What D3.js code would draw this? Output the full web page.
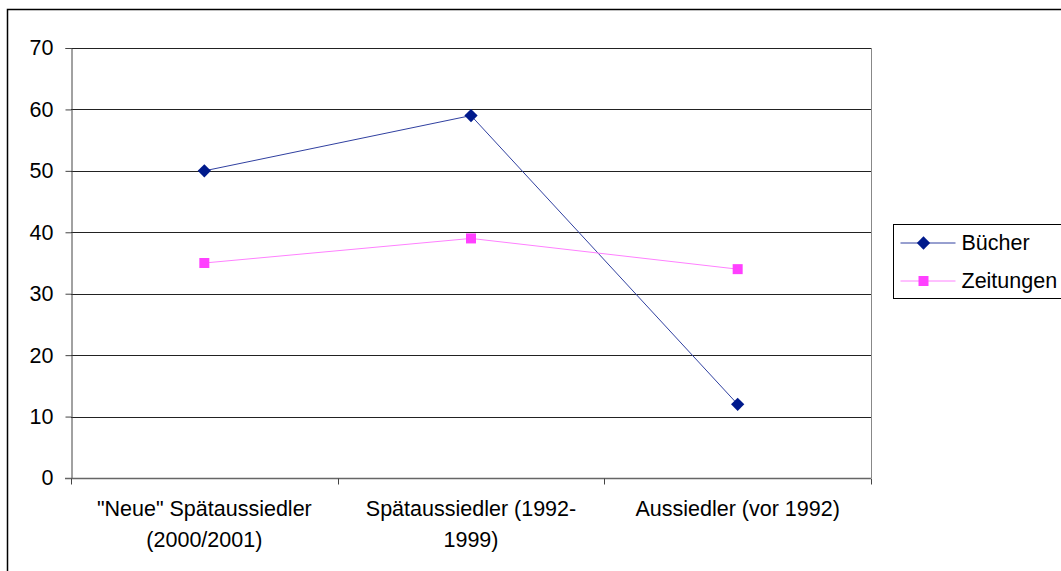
<!DOCTYPE html>
<html>
<head>
<meta charset="utf-8">
<script src="https://cdn.jsdelivr.net/npm/d3@7"></script>
<style>
  body { margin: 0; background: #fff; }
  text { font-family: "Liberation Sans", Arial, sans-serif; font-size: 21.5px; fill: #000; }
</style>
</head>
<body>
<div id="chart"></div>
<script>
// data
var categories = [["\"Neue\" Spätaussiedler", "(2000/2001)"], ["Spätaussiedler (1992-", "1999)"], ["Aussiedler (vor 1992)"]];
var buecher = [50, 59, 12];
var zeitungen = [35, 39, 34];
var yTicks = [0, 10, 20, 30, 40, 50, 60, 70];
var seriesNames = ["Bücher", "Zeitungen"];

var W = 1061, H = 571;
var margin = { top: 48, right: 190, bottom: 93, left: 71 };

var svg = d3.select("#chart").append("svg")
    .attr("width", W)
    .attr("height", H);

// outer chart border
svg.append("rect")
    .attr("x", 7.5).attr("y", 9.5)
    .attr("width", W).attr("height", H)
    .attr("fill", "none")
    .attr("stroke", "#000")
    .attr("stroke-width", 1.5);

var g = svg.append("g")
    .attr("transform", "translate(" + margin.left + "," + margin.top + ")");

var width = W - margin.left - margin.right;   // 800
var height = H - margin.top - margin.bottom;  // 430

var x = d3.scaleBand()
    .domain(d3.range(categories.length))
    .range([0, width]);

var y = d3.scaleLinear()
    .domain([0, 70])
    .range([height, 0]);

// gridlines
g.selectAll(".grid")
    .data(yTicks.filter(function(d){ return d > 0; }))
    .enter().append("line")
    .attr("class", "grid")
    .attr("x1", 0).attr("x2", width)
    .attr("y1", function(d){ return Math.round(y(d)) + 0.5; })
    .attr("y2", function(d){ return Math.round(y(d)) + 0.5; })
    .attr("stroke", "#222")
    .attr("stroke-width", 1);

// plot area right border
g.append("line")
    .attr("x1", width + 0.5).attr("x2", width + 0.5)
    .attr("y1", 0).attr("y2", height)
    .attr("stroke", "#888");

// y axis
var yAxis = g.append("g")
    .attr("transform", "translate(0.5,0)")
    .call(d3.axisLeft(y).tickValues(yTicks).tickSize(6).tickPadding(12));
yAxis.select(".domain").attr("stroke", "#444");
yAxis.selectAll(".tick line").attr("stroke", "#444");
yAxis.selectAll("text").style("font-size", "21.5px").attr("fill", "#000");

// x axis
var xAxis = g.append("g")
    .attr("transform", "translate(0," + (height + 0.5) + ")");
xAxis.append("line")
    .attr("x1", -6).attr("x2", width)
    .attr("stroke", "#666").attr("stroke-width", 1.5);
xAxis.selectAll(".xtick")
    .data(d3.range(categories.length + 1))
    .enter().append("line")
    .attr("class", "xtick")
    .attr("x1", function(d){ return Math.round(d * x.bandwidth()) + 0.5; })
    .attr("x2", function(d){ return Math.round(d * x.bandwidth()) + 0.5; })
    .attr("y1", 0).attr("y2", 6)
    .attr("stroke", "#444");

var labels = xAxis.selectAll(".xlabel")
    .data(categories)
    .enter().append("text")
    .attr("class", "xlabel")
    .attr("text-anchor", "middle")
    .attr("x", function(d, i){ return x(i) + x.bandwidth() / 2; });
labels.selectAll("tspan")
    .data(function(d){ return d; })
    .enter().append("tspan")
    .attr("x", function(){ return d3.select(this.parentNode).attr("x"); })
    .attr("y", function(d, i){ return 37 + i * 31; })
    .text(function(d){ return d; });

// series
var series = [
    { name: seriesNames[0], values: buecher, marker: "diamond" },
    { name: seriesNames[1], values: zeitungen, marker: "square" }
];

var line = d3.line()
    .x(function(d, i){ return x(i) + x.bandwidth() / 2; })
    .y(function(d){ return y(d); });

var diamond = d3.symbol().type(d3.symbolSquare).size(88);
var square = d3.symbol().type(d3.symbolSquare).size(100);

function drawMarker(sel, s) {
    sel.append("path")
        .attr("d", s.marker === "diamond" ? diamond() : square())
        .attr("fill", s.marker === "diamond" ? "#001a8c" : "#ff40ff")
        .attr("transform", s.marker === "diamond" ? "rotate(45)" : null);
}

series.forEach(function(s){
    g.append("path")
        .datum(s.values)
        .attr("d", line)
        .attr("fill", "none")
        .attr("stroke", s.marker === "diamond" ? "#3040a0" : "#ff80ff")
        .attr("stroke-width", 1);

    g.selectAll(".pt-" + s.marker)
        .data(s.values)
        .enter().append("g")
        .attr("class", "pt-" + s.marker)
        .attr("transform", function(d, i){ return "translate(" + (x(i) + x.bandwidth() / 2) + "," + y(d) + ")"; })
        .each(function(){ drawMarker(d3.select(this), s); });
});

// legend
var legend = svg.append("g").attr("transform", "translate(893.5,224.5)");
legend.append("rect")
    .attr("width", 200).attr("height", 74)
    .attr("fill", "#fff")
    .attr("stroke", "#000")
    .attr("stroke-width", 1);

series.forEach(function(s, i){
    var row = legend.append("g").attr("transform", "translate(0," + (18.5 + i * 38) + ")");
    row.append("line")
        .attr("x1", 7).attr("x2", 62)
        .attr("stroke", s.marker === "diamond" ? "#3040a0" : "#ff80ff");
    drawMarker(row.append("g").attr("transform", "translate(30,0)"), s);
    row.append("text")
        .attr("x", 68).attr("y", 7)
        .text(s.name);
});
</script>
</body>
</html>
